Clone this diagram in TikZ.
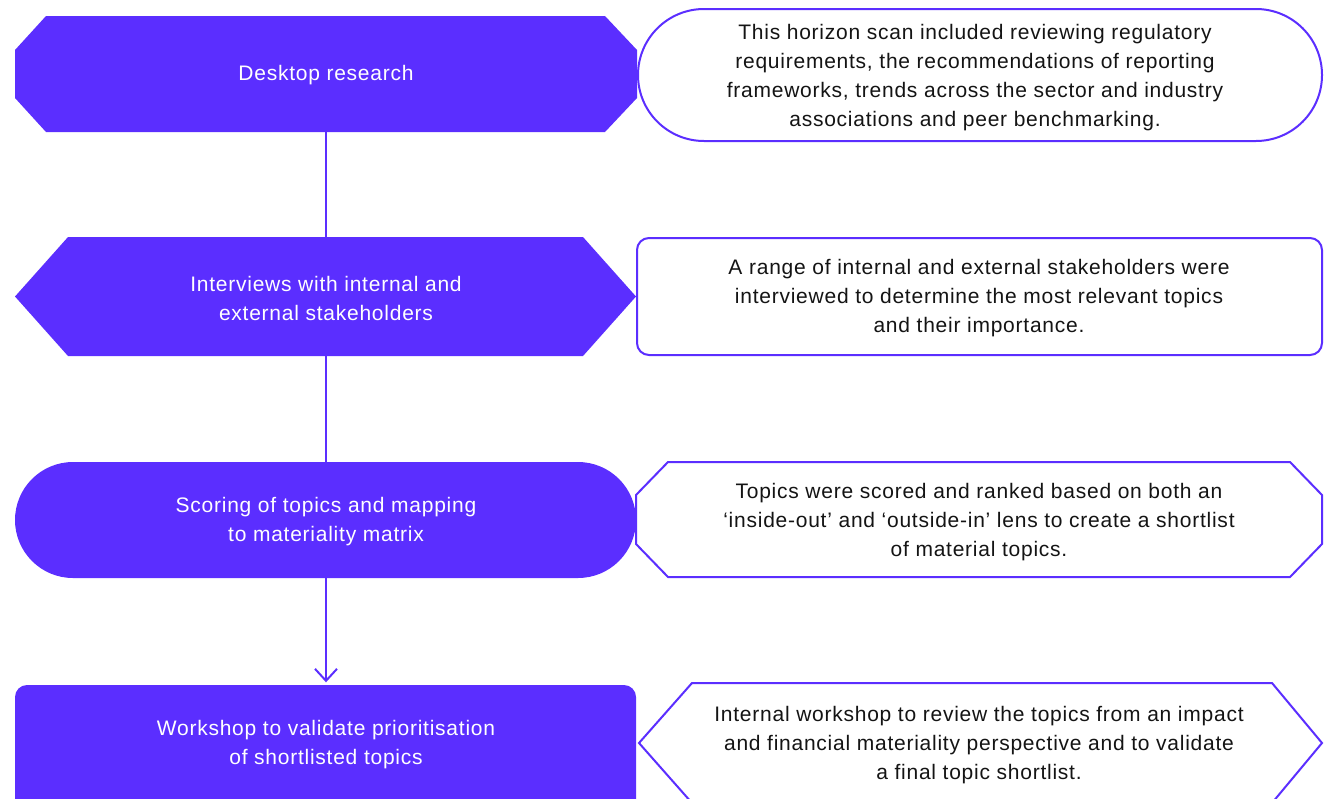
\documentclass[tikz,border=0pt]{standalone}
\usepackage{fontspec}
\setmainfont{Liberation Sans}[LetterSpace=3.6]
\usetikzlibrary{arrows.meta}
\definecolor{brand}{HTML}{5B2EFF}
\definecolor{ink}{HTML}{141414}
\tikzset{
  stepfill/.style={fill=brand, draw=none},
  notebox/.style={draw=brand, line width=2pt, fill=white},
  steptext/.style={text=white, align=center, font=\fontsize{21}{29}\selectfont, inner sep=0pt},
  notetext/.style={text=ink, align=center, font=\fontsize{21}{29}\selectfont, inner sep=0pt},
  anchorbox/.style={draw=none, fill=none, inner sep=0pt, minimum width=#1},
  link/.style={draw=brand, line width=2pt},
}
\begin{document}
\begin{tikzpicture}[x=1pt,y=-1pt]
\useasboundingbox (0,0) rectangle (1324,798);
\clip (0,0) rectangle (1324,798);
% left step shapes
\path[stepfill] (46,16) -- (605,16) -- (637,50) -- (637,98) -- (605,132) -- (46,132) -- (15,98) -- (15,50) -- cycle;
\path[stepfill] (68,237) -- (583,237) -- (636,296.5) -- (583,356) -- (68,356) -- (15,296.5) -- cycle;
\path[stepfill, rounded corners=58pt] (15,462) rectangle (636,578);
\path[stepfill, rounded corners=12pt] (15,685) rectangle (636,812);
% right note shapes
\path[notebox, rounded corners=66pt] (638,9) rectangle (1322,141);
\path[notebox, rounded corners=12pt] (637,238) rectangle (1322,355);
\path[notebox] (668,462) -- (1290,462) -- (1322,495) -- (1322,544) -- (1290,577) -- (668,577) -- (636,544) -- (636,495) -- cycle;
\path[notebox] (692,683) -- (1272,683) -- (1322,743) -- (1272,803) -- (692,803) -- (639,743) -- cycle;
% step anchors
\node[anchorbox=621pt, minimum height=116pt] (s1) at (326,74) {};
\node[anchorbox=621pt, minimum height=119pt] (s2) at (326,296.5) {};
\node[anchorbox=621pt, minimum height=116pt] (s3) at (326,520) {};
\node[anchorbox=621pt, minimum height=120pt] (s4) at (326,745) {};
% step texts
\node[steptext] (t1) at (326,75) {Desktop research};
\node[steptext] (t2) at (326,298) {Interviews with internal and\\external stakeholders};
\node[steptext] (t3) at (326,522) {Scoring of topics and mapping\\to materiality matrix};
\node[steptext] (t4) at (326,744.5) {Workshop to validate prioritisation\\of shortlisted topics};
% note texts
\node[notetext] (n1) at (975,77.5) {This horizon scan included reviewing regulatory\\requirements, the recommendations of reporting\\frameworks, trends across the sector and industry\\associations and peer benchmarking.};
\node[notetext] (n2) at (979,298.5) {A range of internal and external stakeholders were\\interviewed to determine the most relevant topics\\and their importance.};
\node[notetext] (n3) at (979,522) {Topics were scored and ranked based on both an\\‘inside-out’ and ‘outside-in’ lens to create a shortlist\\of material topics.};
\node[notetext] (n4) at (979,745) {Internal workshop to review the topics from an impact\\and financial materiality perspective and to validate\\a final topic shortlist.};
% connectors
\draw[link] (s1.south) -- (s2.north);
\draw[link] (s2.south) -- (s3.north);
\draw[link, -{Straight Barb[length=12pt,width=22pt,line width=2pt]}, shorten >=2.5pt] (s3.south) -- (s4.north);
\end{tikzpicture}
\end{document}
